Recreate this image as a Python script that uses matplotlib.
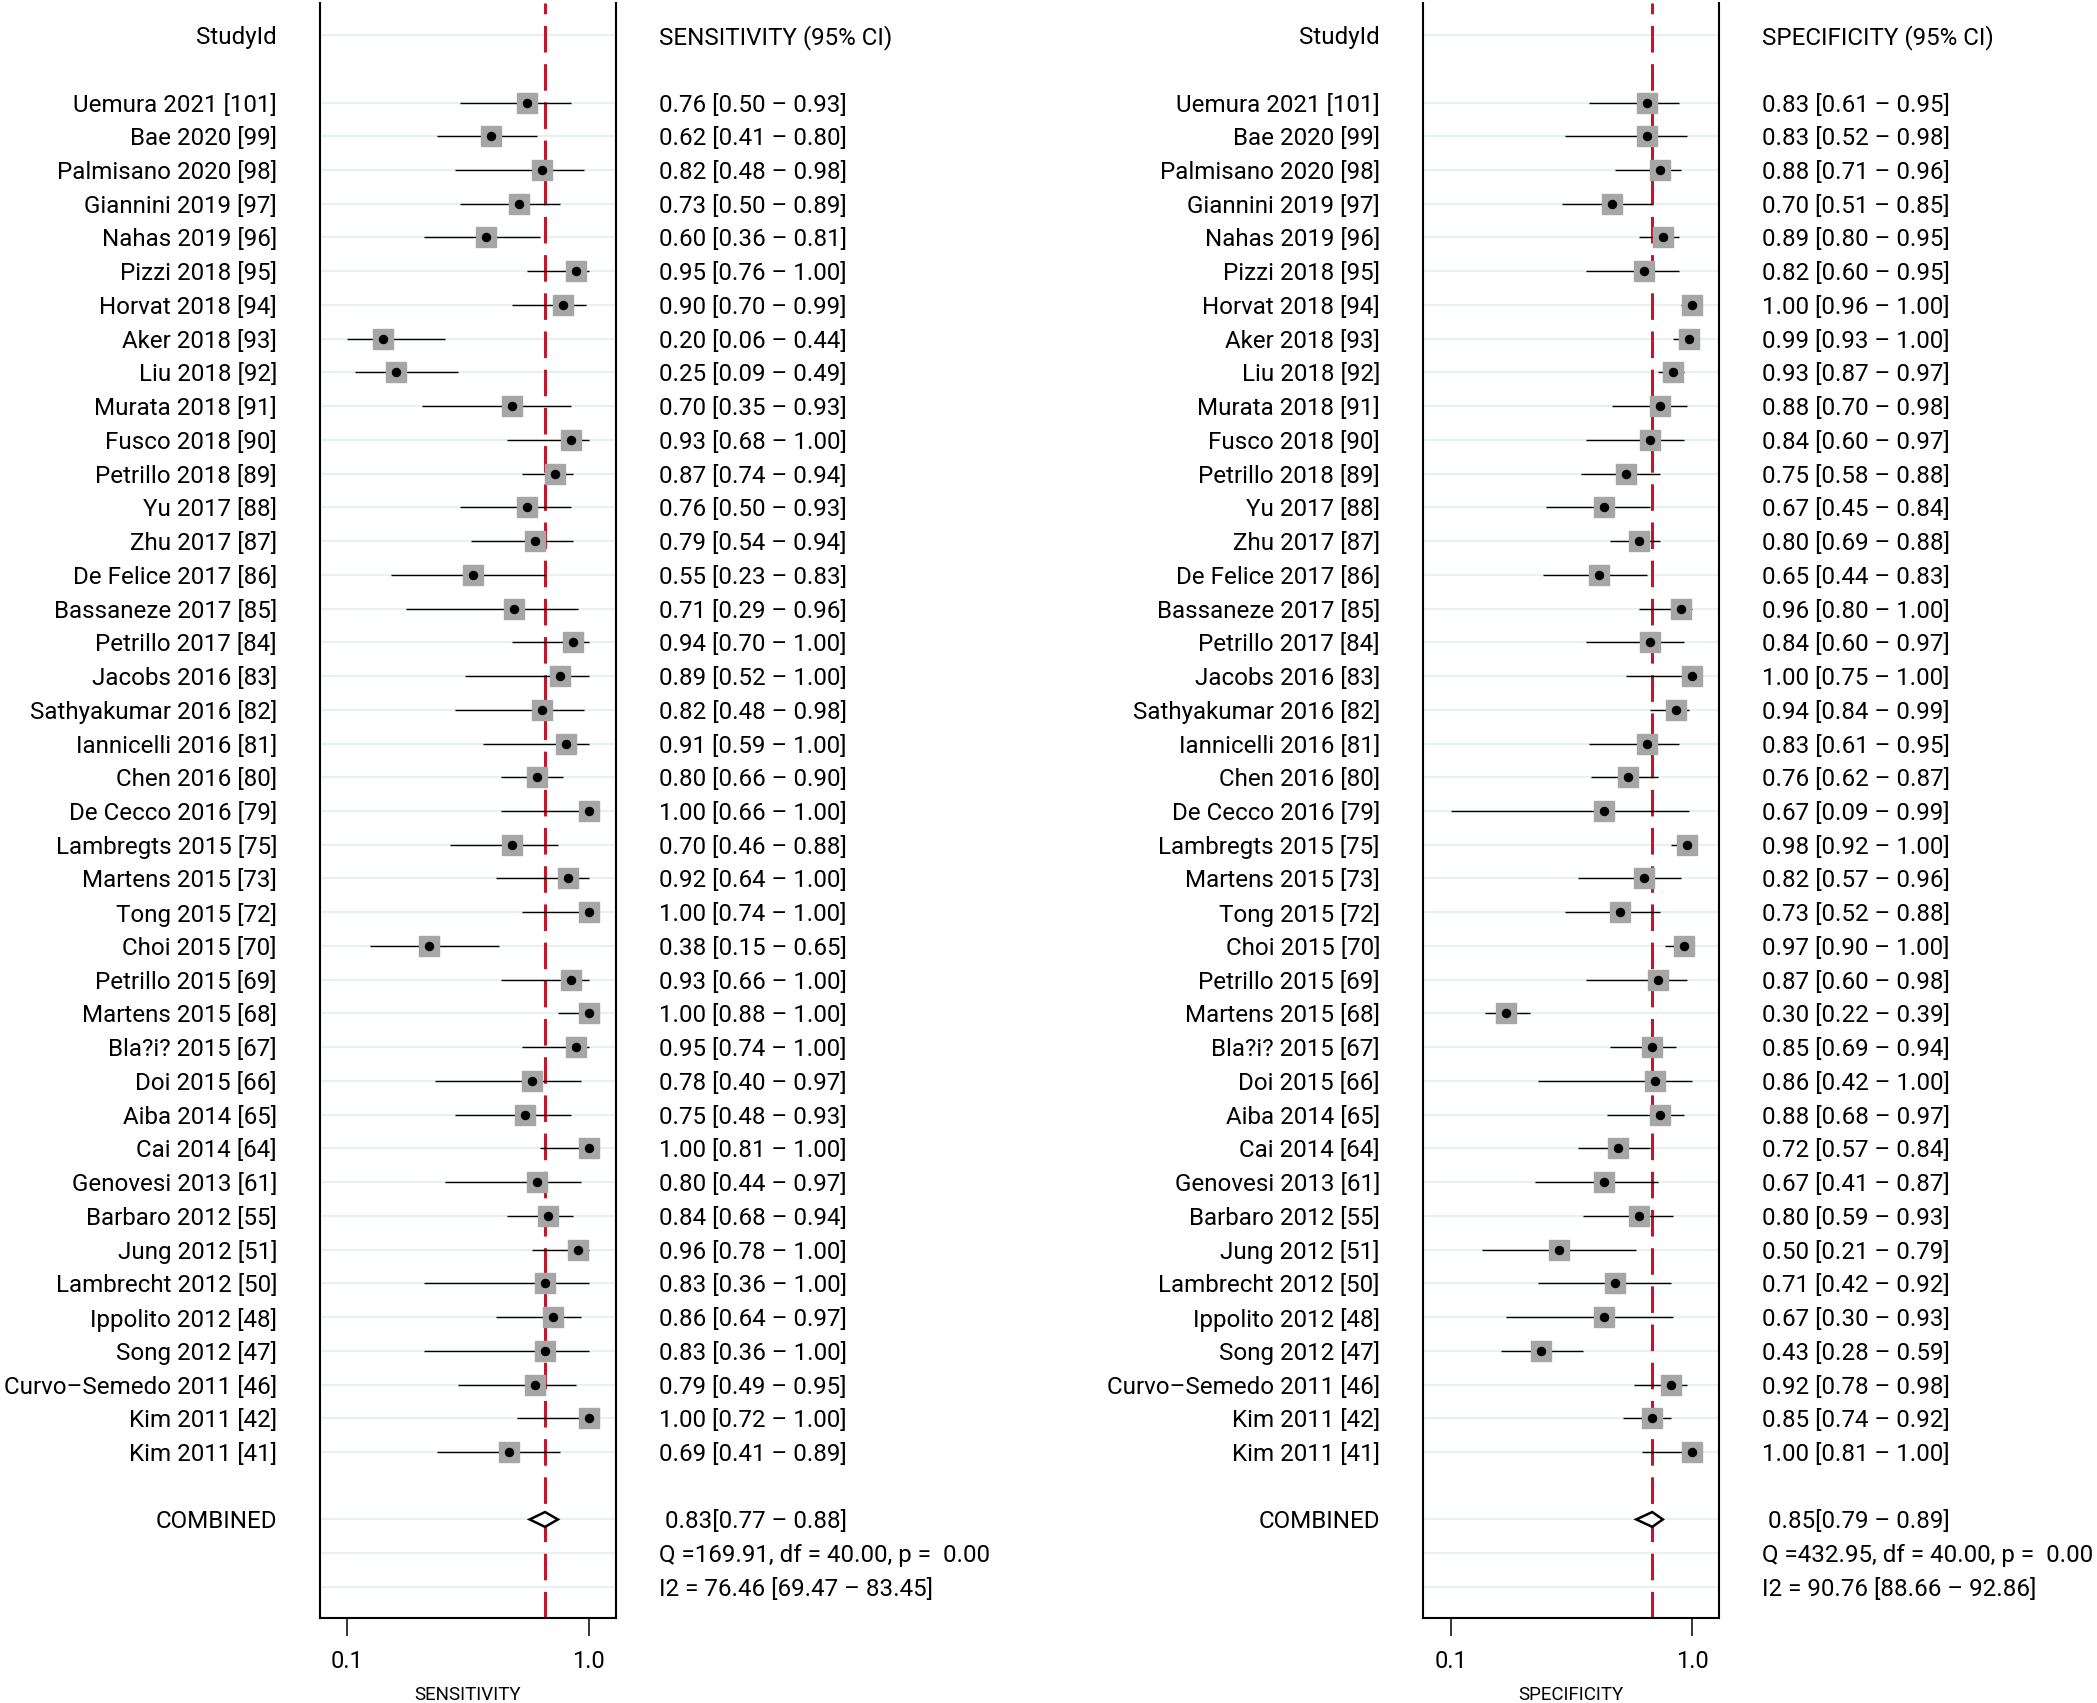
import matplotlib
matplotlib.use("Agg")
import matplotlib.pyplot as plt
from matplotlib.patches import Polygon
from matplotlib.transforms import blended_transform_factory

plt.rcParams["font.family"] = ["Roboto", "DejaVu Sans"]

# ---- data ------------------------------------------------------------------
studies = [
    "Uemura 2021 [101]", "Bae 2020 [99]", "Palmisano 2020 [98]", "Giannini 2019 [97]",
    "Nahas 2019 [96]", "Pizzi 2018 [95]", "Horvat 2018 [94]", "Aker 2018 [93]",
    "Liu 2018 [92]", "Murata 2018 [91]", "Fusco 2018 [90]", "Petrillo 2018 [89]",
    "Yu 2017 [88]", "Zhu 2017 [87]", "De Felice 2017 [86]", "Bassaneze 2017 [85]",
    "Petrillo 2017 [84]", "Jacobs 2016 [83]", "Sathyakumar 2016 [82]", "Iannicelli 2016 [81]",
    "Chen 2016 [80]", "De Cecco 2016 [79]", "Lambregts 2015 [75]", "Martens 2015 [73]",
    "Tong 2015 [72]", "Choi 2015 [70]", "Petrillo 2015 [69]", "Martens 2015 [68]",
    "Bla?i? 2015 [67]", "Doi 2015 [66]", "Aiba 2014 [65]", "Cai 2014 [64]",
    "Genovesi 2013 [61]", "Barbaro 2012 [55]", "Jung 2012 [51]", "Lambrecht 2012 [50]",
    "Ippolito 2012 [48]", "Song 2012 [47]", "Curvo–Semedo 2011 [46]", "Kim 2011 [42]",
    "Kim 2011 [41]",
]

sens = [0.76, 0.62, 0.82, 0.73, 0.60, 0.95, 0.90, 0.20, 0.25, 0.70, 0.93, 0.87, 0.76, 0.79,
        0.55, 0.71, 0.94, 0.89, 0.82, 0.91, 0.80, 1.00, 0.70, 0.92, 1.00, 0.38, 0.93, 1.00,
        0.95, 0.78, 0.75, 1.00, 0.80, 0.84, 0.96, 0.83, 0.86, 0.83, 0.79, 1.00, 0.69]
sens_lo = [0.50, 0.41, 0.48, 0.50, 0.36, 0.76, 0.70, 0.06, 0.09, 0.35, 0.68, 0.74, 0.50, 0.54,
           0.23, 0.29, 0.70, 0.52, 0.48, 0.59, 0.66, 0.66, 0.46, 0.64, 0.74, 0.15, 0.66, 0.88,
           0.74, 0.40, 0.48, 0.81, 0.44, 0.68, 0.78, 0.36, 0.64, 0.36, 0.49, 0.72, 0.41]
sens_hi = [0.93, 0.80, 0.98, 0.89, 0.81, 1.00, 0.99, 0.44, 0.49, 0.93, 1.00, 0.94, 0.93, 0.94,
           0.83, 0.96, 1.00, 1.00, 0.98, 1.00, 0.90, 1.00, 0.88, 1.00, 1.00, 0.65, 1.00, 1.00,
           1.00, 0.97, 0.93, 1.00, 0.97, 0.94, 1.00, 1.00, 0.97, 1.00, 0.95, 1.00, 0.89]

spec = [0.83, 0.83, 0.88, 0.70, 0.89, 0.82, 1.00, 0.99, 0.93, 0.88, 0.84, 0.75, 0.67, 0.80,
        0.65, 0.96, 0.84, 1.00, 0.94, 0.83, 0.76, 0.67, 0.98, 0.82, 0.73, 0.97, 0.87, 0.30,
        0.85, 0.86, 0.88, 0.72, 0.67, 0.80, 0.50, 0.71, 0.67, 0.43, 0.92, 0.85, 1.00]
spec_lo = [0.61, 0.52, 0.71, 0.51, 0.80, 0.60, 0.96, 0.93, 0.87, 0.70, 0.60, 0.58, 0.45, 0.69,
           0.44, 0.80, 0.60, 0.75, 0.84, 0.61, 0.62, 0.09, 0.92, 0.57, 0.52, 0.90, 0.60, 0.22,
           0.69, 0.42, 0.68, 0.57, 0.41, 0.59, 0.21, 0.42, 0.30, 0.28, 0.78, 0.74, 0.81]
spec_hi = [0.95, 0.98, 0.96, 0.85, 0.95, 0.95, 1.00, 1.00, 0.97, 0.98, 0.97, 0.88, 0.84, 0.88,
           0.83, 1.00, 0.97, 1.00, 0.99, 0.95, 0.87, 0.99, 1.00, 0.96, 0.88, 1.00, 0.98, 0.39,
           0.94, 1.00, 0.97, 0.84, 0.87, 0.93, 0.79, 0.92, 0.93, 0.59, 0.98, 0.92, 1.00]

sens_pooled = (0.83, 0.77, 0.88)
spec_pooled = (0.85, 0.79, 0.89)
sens_q = "Q =169.91, df = 40.00, p =  0.00"
sens_i2 = "I2 = 76.46 [69.47 – 83.45]"
spec_q = "Q =432.95, df = 40.00, p =  0.00"
spec_i2 = "I2 = 90.76 [88.66 – 92.86]"

# ---- styling ----------------------------------------------------------------
W, H = 2097, 1703
BOX_GRAY = "#A6A6A6"
RED = "#C0182A"
GRID = "#E9F0F1"
FS = 17.4


def fmt_ci(e, lo, hi):
    return f"{e:.2f} [{lo:.2f} – {hi:.2f}]"


def draw_panel(fig, x_px, est, lo, hi, pooled, name, q_text, i2_text, label_px, value_px):
    ax = fig.add_axes([x_px / W, 1 - 1618.3 / H, 296 / W, (1618.3 - 3) / H])
    n = len(est)
    ys = list(range(n))
    y_head, y_pool = -2, n + 1
    y_q, y_i2 = n + 2, n + 3

    xmin = min(lo)
    pad = 0.113 * (1 - xmin)
    ax.set_xlim(xmin - pad, 1 + pad)
    ax.set_ylim(y_i2 + 0.93, y_head - 0.95)

    for y in [y_head] + ys + [y_pool, y_q, y_i2]:
        ax.axhline(y, color=GRID, lw=1.6, zorder=0)

    ax.axvline(pooled[0], color=RED, lw=2.2, ls=(0, (8.7, 3.8)), zorder=1)
    ax.hlines(ys, lo, hi, color="black", lw=1.0, zorder=2)
    ax.plot(est, ys, "s", ms=15, mfc=BOX_GRAY, mec=BOX_GRAY, zorder=3)
    ax.plot(est, ys, "o", ms=5.8, color="black", zorder=4)

    p, plo, phi = pooled
    diamond = Polygon([(plo, y_pool), (p, y_pool - 0.22), (phi, y_pool), (p, y_pool + 0.22)],
                      closed=True, facecolor="white", edgecolor="black", lw=1.8, zorder=4)
    ax.add_patch(diamond)

    ax.spines["top"].set_visible(False)
    for s in ("left", "right", "bottom"):
        ax.spines[s].set_linewidth(1.5)
    ax.set_yticks([])
    ticks = [xmin, 1.0]
    ax.set_xticks(ticks)
    ax.set_xticklabels([f"{t:.1f}" for t in ticks])
    ax.tick_params(axis="x", length=13, width=1.1, labelsize=17, pad=10)
    ax.set_xlabel(name, fontsize=13.5, labelpad=9)

    tr = blended_transform_factory(fig.transFigure, ax.transData)
    lx, vx = label_px / W, value_px / W
    ax.text(lx, y_head, "StudyId", transform=tr, ha="right", va="center_baseline", fontsize=FS)
    ax.text(vx, y_head, f"{name} (95% CI)", transform=tr, ha="left", va="center_baseline", fontsize=FS)
    for y, s, e, a, b in zip(ys, studies, est, lo, hi):
        ax.text(lx, y, s, transform=tr, ha="right", va="center_baseline", fontsize=FS)
        ax.text(vx, y, fmt_ci(e, a, b), transform=tr, ha="left", va="center_baseline", fontsize=FS)
    ax.text(lx, y_pool, "COMBINED", transform=tr, ha="right", va="center_baseline", fontsize=FS)
    ax.text(vx, y_pool, f" {p:.2f}[{plo:.2f} – {phi:.2f}]", transform=tr,
            ha="left", va="center_baseline", fontsize=FS)
    ax.text(vx, y_q, q_text, transform=tr, ha="left", va="center_baseline", fontsize=FS)
    ax.text(vx, y_i2, i2_text, transform=tr, ha="left", va="center_baseline", fontsize=FS)
    return ax


fig = plt.figure(figsize=(W / 100, H / 100), dpi=100)
draw_panel(fig, 320, sens, sens_lo, sens_hi, sens_pooled, "SENSITIVITY",
           sens_q, sens_i2, 277, 659)
draw_panel(fig, 1423.3, spec, spec_lo, spec_hi, spec_pooled, "SPECIFICITY",
           spec_q, spec_i2, 1380, 1762)
fig.savefig("out.png", dpi=100)
